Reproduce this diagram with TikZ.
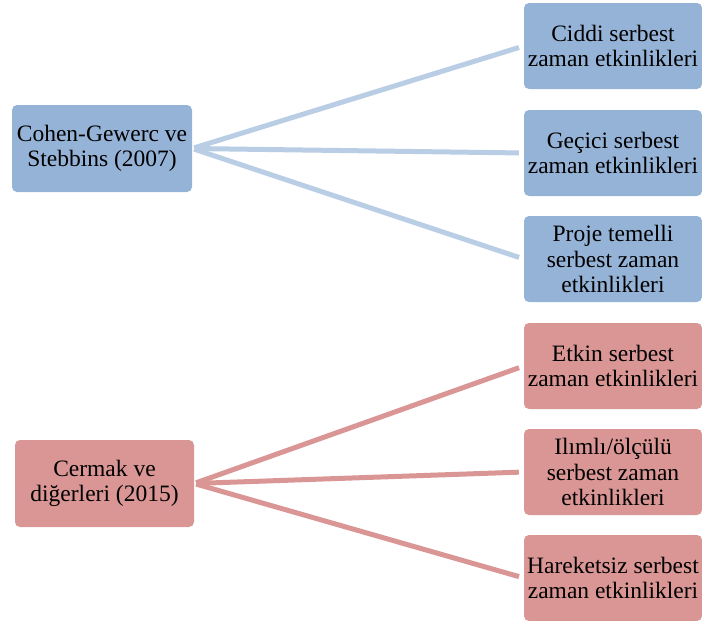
\documentclass[tikz,border=0pt]{standalone}
\usepackage{fontspec}
\setmainfont{Liberation Serif}
\definecolor{boxblue}{HTML}{95B3D7}
\definecolor{lineblue}{HTML}{B9CDE5}
\definecolor{boxred}{HTML}{D99694}
\definecolor{linered}{HTML}{D99694}
\tikzset{
  box/.style={rounded corners=5pt, inner sep=1pt, align=center, font=\fontsize{23.5}{25.5}\selectfont, text=black},
  bluebox/.style={box, fill=boxblue},
  redbox/.style={box, fill=boxred},
  rbox/.style={minimum width=178pt, minimum height=86pt},
  blueline/.style={draw=lineblue, line width=5pt, shorten >=5pt, shorten <=2pt},
  redline/.style={draw=linered, line width=5pt, shorten >=5pt, shorten <=2pt},
}
\begin{document}
\begin{tikzpicture}[x=1pt,y=-1pt]
\useasboundingbox (0,0) rectangle (702,621);
% left nodes
\node[bluebox, minimum width=180pt, minimum height=87pt] (cg) at (102,148.5) {Cohen-Gewerc ve\\Stebbins (2007)};
\node[redbox, minimum width=179pt, minimum height=87pt] (cm) at (104.5,483.5) {Cermak ve\\diğerleri (2015)};
% right nodes
\node[bluebox, rbox] (b1) at (613,46) {Ciddi serbest\\zaman etkinlikleri};
\node[bluebox, rbox] (b2) at (613,153) {Geçici serbest\\zaman etkinlikleri};
\node[bluebox, rbox] (b3) at (613,259) {Proje temelli\\serbest zaman\\etkinlikleri};
\node[redbox, rbox] (r1) at (613,366) {Etkin serbest\\zaman etkinlikleri};
\node[redbox, rbox] (r2) at (613,472) {Ilımlı/ölçülü\\serbest zaman\\etkinlikleri};
\node[redbox, rbox] (r3) at (613,578) {Hareketsiz serbest\\zaman etkinlikleri};
% connectors
\draw[blueline] (cg.east) -- (b1.west);
\draw[blueline] (cg.east) -- (b2.west);
\draw[blueline] (cg.east) -- (b3.west);
\draw[redline] (cm.east) -- (r1.west);
\draw[redline] (cm.east) -- (r2.west);
\draw[redline] (cm.east) -- (r3.west);
\end{tikzpicture}
\end{document}
